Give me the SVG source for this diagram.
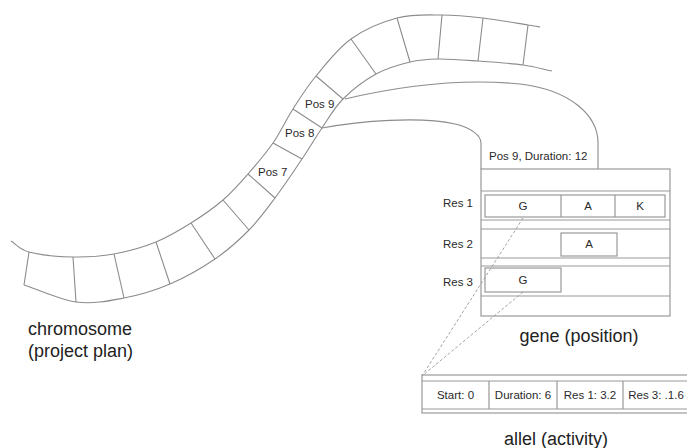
<svg xmlns="http://www.w3.org/2000/svg" width="687" height="448" viewBox="0 0 687 448">
<style>
.ln{fill:none;stroke:#8c8c8c;stroke-width:1.1}
.bx{fill:none;stroke:#999;stroke-width:1.2}
.dash{fill:none;stroke:#9a9a9a;stroke-width:0.9;stroke-dasharray:3,2}
.s{font-family:"Liberation Sans",Arial,sans-serif;font-size:11.5px;fill:#2a2a2a}
.m{text-anchor:middle}
.r{text-anchor:end}
.big{font-family:"Liberation Sans",Arial,sans-serif;font-size:18px;fill:#222}
</style>
<rect width="687" height="448" fill="#fff"/>
<g id="chromosome">
<path class="ln" d="M11,241 C17,244.7 18.7,249.3 29,252 C39.3,254.7 58.8,256.7 73,257 C87.2,257.3 100.2,256.5 114,254 C127.8,251.5 143.2,247.2 156,242 C168.8,236.8 179.8,230 191,223 C202.2,216 213.5,208.2 223,200 C232.5,191.8 239.7,183.5 248,174 C256.3,164.5 265.5,153.8 273,143 C280.5,132.2 285.8,120.2 293,109 C300.2,97.8 306.3,87.7 316,76 C325.7,64.3 337.5,48.7 351,39 C364.5,29.3 381.8,22 397,18 C412.2,14 427.7,15 442,15 C456.3,15 468.7,16.3 483,18 C497.3,19.7 518.5,23.5 528,25 C537.5,26.5 536,26.3 540,27"/>
<path class="ln" d="M24,285 C41.3,290.7 59.3,299.8 76,302 C92.7,304.2 108.3,301 124,298 C139.7,295 154.8,290.5 170,284 C185.2,277.5 201.8,268 215,259 C228.2,250 239,240.2 249,230 C259,219.8 266.2,209.8 275,198 C283.8,186.2 294.2,170.7 302,159 C309.8,147.3 315.2,138 322,128 C328.8,118 334,108 343,99 C352,90 364.8,80.2 376,74 C387.2,67.8 399.7,64.5 410,62 C420.3,59.5 426.7,59.2 438,59 C449.3,58.8 463.8,60 478,61 C492.2,62 510.7,63.3 523,65 C535.3,66.7 542.3,69 552,71"/>
<path class="ln" d="M29,252 L24,285 M73,257 L76,302 M114,254 L124,298 M156,242 L170,284 M191,223 L215,259 M223,200 L249,230 M248,174 L275,198 M273,143 L302,159 M293,109 L322,128 M316,76 L343,99 M351,39 L376,74 M397,18 L410,62 M442,15 L438,59 M483,18 L478,61 M528,25 L523,65"/>
<text class="s" x="258" y="176">Pos 7</text>
<text class="s" x="285" y="137">Pos 8</text>
<text class="s" x="305" y="108">Pos 9</text>
<text class="big" x="28" y="335">chromosome</text>
<text class="big" x="28" y="357">(project plan)</text>
</g>
<g id="connectors">
<path class="ln" d="M322,128 C360,121 420,116 455,124 C472,128 481,136 481,143 L481,169"/>
<path class="ln" d="M345,99 C400,86 460,78 520,84 C570,90 598,115 598,143 L598,169"/>
<path class="dash" d="M523,218 L422,376"/>
<path class="dash" d="M523,292 L422,376"/>
</g>
<g id="gene">
<rect class="bx" x="481" y="169" width="189" height="147"/>
<path class="bx" d="M481,191 H670 M481,220 H670 M481,229 H670 M481,258 H670 M481,266 H670 M481,296 H670"/>
<rect class="bx" x="485" y="195" width="180" height="22"/>
<path class="bx" d="M561,195 V217 M615,195 V217"/>
<rect class="bx" x="561" y="233" width="56" height="23"/>
<rect class="bx" x="485" y="268" width="76" height="24"/>
<text class="s" x="489" y="160">Pos 9, Duration: 12</text>
<text class="s r" x="473" y="207">Res 1</text>
<text class="s r" x="473" y="248">Res 2</text>
<text class="s r" x="473" y="286">Res 3</text>
<text class="s m" x="523" y="210">G</text>
<text class="s m" x="588" y="210">A</text>
<text class="s m" x="640" y="210">K</text>
<text class="s m" x="589" y="248">A</text>
<text class="s m" x="523" y="284">G</text>
<text class="big m" x="579" y="342">gene (position)</text>
</g>
<g id="allel">
<rect class="bx" x="422" y="375" width="280" height="38"/>
<path class="bx" d="M422,381 H690 M422,409 H690 M489,381 V409 M557,381 V409 M623,381 V409"/>
<text class="s m" x="455.5" y="399">Start: 0</text>
<text class="s m" x="523" y="399">Duration: 6</text>
<text class="s m" x="590" y="399">Res 1: 3.2</text>
<text class="s m" x="656" y="399">Res 3: .1.6</text>
<text class="big m" x="556" y="445">allel (activity)</text>
</g>
</svg>
